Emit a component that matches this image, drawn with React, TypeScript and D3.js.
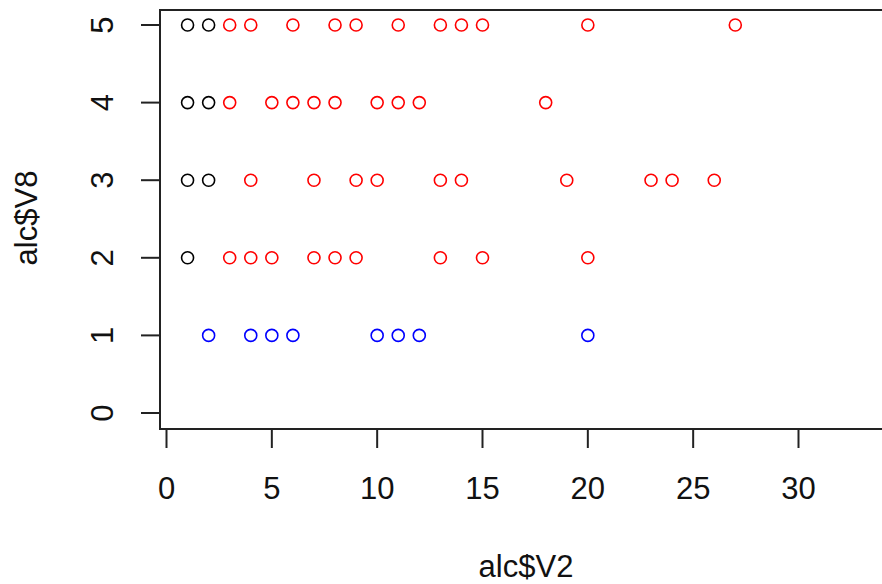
import React from "react";
import { scaleLinear } from "d3";

// alc$V2 values at each alc$V8 level, split by point colour
const levelsV8 = [5, 4, 3, 2, 1];
const blackV2 = [[1, 2], [1, 2], [1, 2], [1], []];
const redV2 = [
  [3, 4, 6, 8, 9, 11, 13, 14, 15, 20, 27],
  [3, 5, 6, 7, 8, 10, 11, 12, 18],
  [4, 7, 9, 10, 13, 14, 19, 23, 24, 26],
  [3, 4, 5, 7, 8, 9, 13, 15, 20],
  [],
];
const blueV2 = [[], [], [], [], [2, 4, 5, 6, 10, 11, 12, 20]];

const xTicks = [0, 5, 10, 15, 20, 25, 30];
const yTicks = [0, 1, 2, 3, 4, 5];

const W = 882;
const H = 584;
const box = { left: 160, top: 10, right: 892, bottom: 429 };
const font = "'Liberation Sans', Arial, sans-serif";
const fs = 31;

export default function App() {
  const x = scaleLinear().domain([0, 30]).range([166.5, 798.5]);
  const y = scaleLinear().domain([0, 5]).range([413, 25]);

  const groups = [
    { color: "#000000", vals: blackV2 },
    { color: "#ff0000", vals: redV2 },
    { color: "#0000ff", vals: blueV2 },
  ];

  const points: { cx: number; cy: number; color: string }[] = [];
  groups.forEach((g) =>
    g.vals.forEach((row, i) =>
      row.forEach((v) =>
        points.push({ cx: x(v), cy: y(levelsV8[i]), color: g.color })
      )
    )
  );

  return (
    <svg
      width={W}
      height={H}
      style={{ position: "absolute", left: 0, top: 0, background: "#fff" }}
    >
      <rect
        x={box.left}
        y={box.top}
        width={box.right - box.left}
        height={box.bottom - box.top}
        fill="none"
        stroke="#222"
        strokeWidth={2}
      />

      {/* x axis */}
      {xTicks.map((t) => (
        <g key={"x" + t}>
          <line
            x1={x(t)}
            x2={x(t)}
            y1={box.bottom}
            y2={box.bottom + 19}
            stroke="#222"
            strokeWidth={2}
          />
          <text
            x={x(t)}
            y={499}
            textAnchor="middle"
            fontFamily={font}
            fontSize={fs}
            fill="#111"
          >
            {t}
          </text>
        </g>
      ))}

      {/* y axis */}
      {yTicks.map((t) => (
        <g key={"y" + t}>
          <line
            x1={box.left - 19}
            x2={box.left}
            y1={y(t)}
            y2={y(t)}
            stroke="#222"
            strokeWidth={2}
          />
          <text
            transform={`translate(113, ${y(t)}) rotate(-90)`}
            textAnchor="middle"
            fontFamily={font}
            fontSize={fs}
            fill="#111"
          >
            {t}
          </text>
        </g>
      ))}

      <text
        x={(box.left + W) / 2 + 5}
        y={577}
        textAnchor="middle"
        fontFamily={font}
        fontSize={fs}
        fill="#111"
      >
        alc$V2
      </text>
      <text
        transform="translate(37, 218) rotate(-90)"
        textAnchor="middle"
        fontFamily={font}
        fontSize={fs}
        fill="#111"
      >
        alc$V8
      </text>

      {points.map((p, i) => (
        <circle
          key={i}
          cx={p.cx}
          cy={p.cy}
          r={6}
          fill="none"
          stroke={p.color}
          strokeWidth={1.6}
        />
      ))}
    </svg>
  );
}
